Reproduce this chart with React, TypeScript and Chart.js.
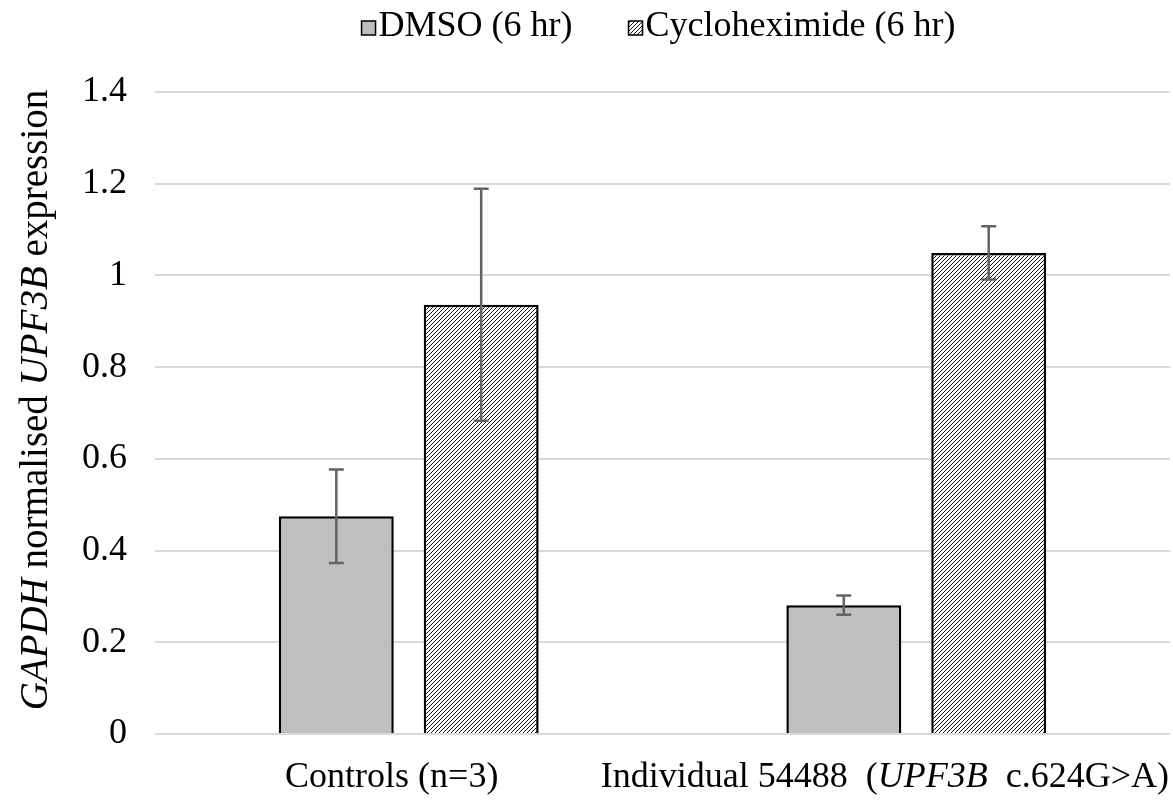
import React, { useEffect, useRef } from "react";
import { Chart, registerables } from "chart.js";

Chart.register(...registerables);

const categories = ["Controls (n=3)", "Individual 54488  (UPF3B  c.624G>A)"];
const seriesNames = ["DMSO (6 hr)", "Cycloheximide (6 hr)"];
const dmsoValues = [0.475, 0.281];
const dmsoErrors = [0.102, 0.021];
const cycloValues = [0.936, 1.049];
const cycloErrors = [0.253, 0.058];
const yMin = 0;
const yMax = 1.4;
const yStep = 0.2;
const yTitle = "GAPDH normalised UPF3B expression";
const italicWords = ["GAPDH", "UPF3B"];

const FONT = "'Liberation Serif', 'Times New Roman', serif";
const FS = 36;

function splitSegments(text: string) {
  const re = new RegExp("(" + italicWords.join("|") + ")", "g");
  return text
    .split(re)
    .filter((s) => s.length > 0)
    .map((s) => ({ t: s, it: italicWords.includes(s) }));
}

function measureRich(ctx: CanvasRenderingContext2D, text: string, fs: number) {
  const segs = splitSegments(text);
  let total = 0;
  const widths = segs.map((s) => {
    ctx.font = (s.it ? "italic " : "") + fs + "px " + FONT;
    const w = ctx.measureText(s.t).width;
    total += w;
    return w;
  });
  return { segs, widths, total };
}

function drawRich(ctx: CanvasRenderingContext2D, text: string, cx: number, cy: number, fs: number) {
  const { segs, widths, total } = measureRich(ctx, text, fs);
  let x = cx - total / 2;
  ctx.textBaseline = "middle";
  ctx.textAlign = "left";
  segs.forEach((s, i) => {
    ctx.font = (s.it ? "italic " : "") + fs + "px " + FONT;
    ctx.fillText(s.t, x, cy);
    x += widths[i];
  });
}

function makeHatch(): CanvasPattern | string {
  const c = document.createElement("canvas");
  c.width = 4;
  c.height = 4;
  const g = c.getContext("2d");
  if (!g) return "#fff";
  g.fillStyle = "#ffffff";
  g.fillRect(0, 0, 4, 4);
  g.fillStyle = "#000000";
  g.fillRect(3, 0, 1, 1);
  g.fillRect(1, 2, 1, 1);
  g.fillStyle = "#222222";
  g.fillRect(2, 1, 1, 1);
  g.fillRect(0, 3, 1, 1);
  const p = g.createPattern(c, "repeat");
  return p || "#fff";
}

export default function App() {
  const ref = useRef<HTMLCanvasElement | null>(null);

  useEffect(() => {
    document.body.style.margin = "0";
    const canvas = ref.current;
    if (!canvas) return;
    const hatch = makeHatch();
    const errs = [dmsoErrors, cycloErrors];

    const errorBars = {
      id: "errorBars",
      afterDatasetsDraw(chart: any) {
        const ctx = chart.ctx;
        const ys = chart.scales.y;
        ctx.save();
        ctx.strokeStyle = "#636363";
        ctx.lineWidth = 2.5;
        chart.data.datasets.forEach((ds: any, i: number) => {
          const meta = chart.getDatasetMeta(i);
          meta.data.forEach((bar: any, j: number) => {
            const v = ds.data[j];
            const e = errs[i][j];
            const yt = ys.getPixelForValue(v + e);
            const yb = ys.getPixelForValue(v - e);
            const x = bar.x;
            ctx.beginPath();
            ctx.moveTo(x, yt);
            ctx.lineTo(x, yb);
            ctx.moveTo(x - 7.5, yt);
            ctx.lineTo(x + 7.5, yt);
            ctx.moveTo(x - 7.5, yb);
            ctx.lineTo(x + 7.5, yb);
            ctx.stroke();
          });
        });
        ctx.restore();
      },
    };

    const texts = {
      id: "texts",
      afterDraw(chart: any) {
        const ctx = chart.ctx;
        const area = chart.chartArea;
        const xs = chart.scales.x;
        ctx.save();
        ctx.fillStyle = "#000";
        // x labels
        categories.forEach((c, i) => {
          const w = measureRich(ctx, c, FS).total;
          let cx = xs.getPixelForValue(i) - 17;
          cx = Math.min(cx, chart.width - 4 - w / 2);
          drawRich(ctx, c, cx, 778, FS);
        });
        // y title
        ctx.save();
        ctx.translate(37, 400);
        ctx.rotate(-Math.PI / 2);
        drawRich(ctx, yTitle, 0, 0, 39);
        ctx.restore();
        // legend
        ctx.font = FS + "px " + FONT;
        const box = 14;
        const gapBox = 3;
        const gapItem = 56;
        const fills: any[] = ["#bfbfbf", hatch];
        const widths = seriesNames.map((n) => ctx.measureText(n).width);
        let total = 0;
        widths.forEach((w, i) => {
          total += box + gapBox + w + (i > 0 ? gapItem : 0);
        });
        let x = (area.left + area.right) / 2 - 4 - total / 2;
        const cy = 27;
        seriesNames.forEach((n, i) => {
          ctx.fillStyle = fills[i];
          ctx.fillRect(x, cy - box / 2 + 1, box, box);
          ctx.strokeStyle = "#000";
          ctx.lineWidth = 1.5;
          ctx.strokeRect(x, cy - box / 2 + 1, box, box);
          x += box + gapBox;
          ctx.fillStyle = "#000";
          ctx.textAlign = "left";
          ctx.textBaseline = "middle";
          ctx.font = FS + "px " + FONT;
          ctx.fillText(n, x, cy);
          x += widths[i] + gapItem;
        });
        ctx.restore();
      },
    };

    const chart = new Chart(canvas, {
      type: "bar",
      data: {
        labels: categories,
        datasets: [
          {
            label: seriesNames[0],
            data: dmsoValues,
            backgroundColor: "#bfbfbf",
            borderColor: "#000",
            borderWidth: 2.5,
            categoryPercentage: 0.571,
            barPercentage: 0.793,
          },
          {
            label: seriesNames[1],
            data: cycloValues,
            backgroundColor: hatch as any,
            borderColor: "#000",
            borderWidth: 2.5,
            categoryPercentage: 0.571,
            barPercentage: 0.793,
          },
        ],
      },
      options: {
        responsive: false,
        animation: false,
        layout: { padding: { top: 92, right: 3, left: 0, bottom: 0 } },
        plugins: {
          legend: { display: false },
          tooltip: { enabled: false },
        },
        scales: {
          x: {
            grid: { display: false },
            border: { display: false },
            ticks: { display: false },
            afterFit(scale: any) {
              scale.height = 66;
            },
          },
          y: {
            min: yMin,
            max: yMax,
            ticks: {
              stepSize: yStep,
              padding: 28,
              color: "#000",
              font: { family: FONT, size: FS },
              callback: (v: any) => String(Number(Number(v).toFixed(1))),
            },
            grid: { color: "#d9d9d9", lineWidth: 2, drawTicks: false },
            border: { display: false },
            afterFit(scale: any) {
              scale.width = 155;
            },
          },
        },
      },
      plugins: [errorBars, texts],
    });
    return () => chart.destroy();
  }, []);

  return (
    <div style={{ width: 1173, height: 800, background: "#fff" }}>
      <canvas ref={ref} width={1173} height={800} />
    </div>
  );
}
